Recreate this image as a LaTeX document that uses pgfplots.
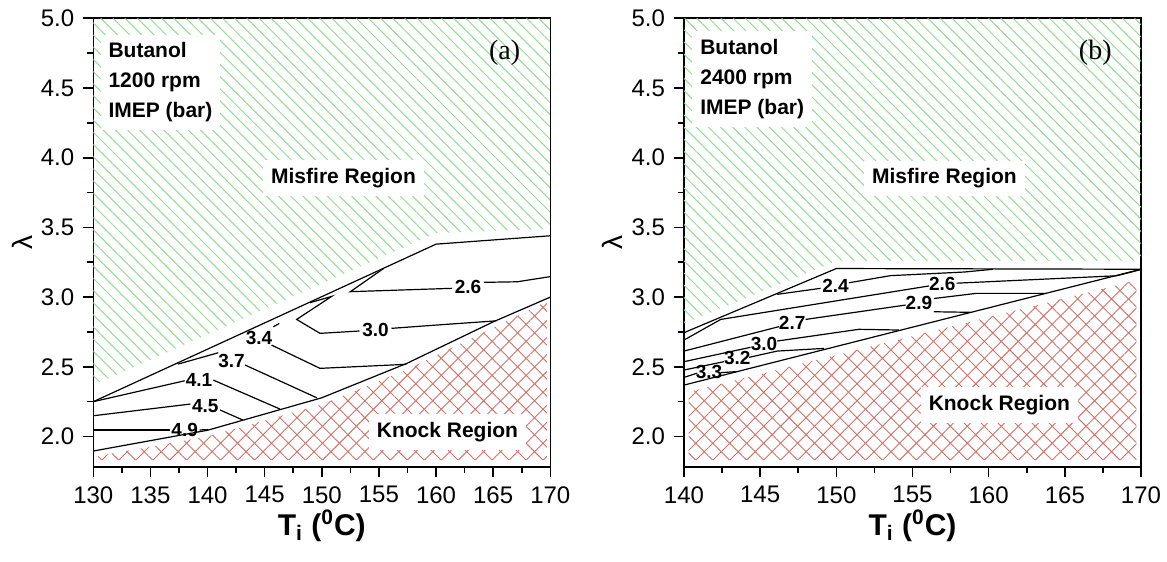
\documentclass[border=0pt]{standalone}
\usepackage{fontspec}
\setmainfont{Liberation Sans}
\newfontfamily\seriffont{Liberation Serif}
\usepackage{pgfplots}
\pgfplotsset{compat=1.18}
\usetikzlibrary{patterns.meta}
\definecolor{hatchgreen}{RGB}{145,222,145}
\definecolor{hatchred}{RGB}{205,115,105}

\tikzset{
  clab/.style={font=\fontsize{9.5}{11}\selectfont\bfseries, inner sep=0pt},
  wbox/.style={fill=white, inner sep=4pt, font=\fontsize{10.5}{15}\selectfont\bfseries},
}
\pgfplotsset{
  panel/.style={
    scale only axis, width=228.5pt, height=224.45pt,
    ymin=1.78, ymax=5.0,
    ytick={2,2.5,3,3.5,4,4.5,5}, minor y tick num=1,
    minor x tick num=1,
    axis line style={line width=0.8pt},
    tick align=outside,
    major tick length=5pt, minor tick length=3pt,
    xtick pos=bottom, ytick pos=left,
    every tick/.style={black, line width=0.8pt},
    tick label style={font=\fontsize{12}{14}\selectfont},
    /pgf/number format/assume math mode=true,
    yticklabel style={/pgf/number format/fixed, /pgf/number format/fixed zerofill, /pgf/number format/precision=1, xshift=-1pt},
    xticklabel style={/pgf/number format/fixed, yshift=-1pt},
    xlabel={\bfseries T\textsubscript{i} (\textsuperscript{0}C)},
    xlabel style={font=\fontsize{15}{17}\selectfont, at={(axis description cs:0.5,-0.13)}, anchor=center},
    ylabel={λ},
    ylabel style={font=\fontsize{14}{16}\selectfont, at={(axis description cs:-0.156,0.5)}, anchor=center},
    clip=true,
  },
  cline/.style={black, line width=0.6pt, mark=none},
  greenhatch/.style={draw=none, pattern={Lines[angle=-45,distance=4.3pt,line width=0.5pt]}, pattern color=hatchgreen},
  redhatch/.style={draw=none, pattern={Hatch[angle=45,distance=6pt,line width=0.45pt]}, pattern color=hatchred},
}

\begin{document}
\begin{tikzpicture}
\path[use as bounding box] (0,0) rectangle (583.5pt,281pt);

% ---------------- panel (a) ----------------
\begin{axis}[panel, at={(46.65pt,47.4pt)}, anchor=south west,
  xmin=130, xmax=170, xtick={130,135,140,145,150,155,160,165,170}]
  \addplot[greenhatch] coordinates {(130,2.37) (160,3.46) (170,3.49) (170,5) (130,5) (130,2.37)};
  \addplot[redhatch] coordinates {(130.4,1.83) (130.4,1.86) (140,2.0) (150,2.23) (157.45,2.48) (165,2.78) (169.7,2.97) (169.7,1.83) (130.4,1.83)};
  \addplot[cline] coordinates {(130,2.25) (160,3.38) (170,3.44)};
  \addplot[cline] coordinates {(130,1.896) (140,2.045) (150,2.278) (157.45,2.525) (165.04,2.824) (170,3.0)};
  \addplot[cline] coordinates {(130,2.047) (136.75,2.047)};
  \addplot[cline] coordinates {(139.3,2.047) (140.05,2.05)};
  \addplot[cline] coordinates {(130,2.149) (138.5,2.233)};
  \addplot[cline] coordinates {(141.1,2.19) (143.1,2.118)};
  \addplot[cline] coordinates {(130,2.25) (138.0,2.40)};
  \addplot[cline] coordinates {(140.5,2.405) (146.34,2.197)};
  \addplot[cline] coordinates {(137.44,2.52) (140.94,2.601)};
  \addplot[cline] coordinates {(143.28,2.513) (149.56,2.278)};
  \addplot[cline] coordinates {(145.76,2.787) (146.28,2.811)};
  \addplot[cline] coordinates {(145.6,2.656) (149.84,2.489) (157.4,2.518)};
  \addplot[cline] coordinates {(148.97,2.96) (150.86,3.005) (147.8,2.84) (149.84,2.74) (153.3,2.757)};
  \addplot[cline] coordinates {(156.1,2.776) (160.1,2.80) (165.3,2.83)};
  \addplot[cline] coordinates {(155.4,3.205) (152.5,3.039) (161.4,3.063)};
  \addplot[cline] coordinates {(164.2,3.106) (167.1,3.11) (170,3.147)};
  \node[clab] at (axis cs:138.0,2.047) {4.9};
  \node[clab] at (axis cs:139.8,2.222) {4.5};
  \node[clab] at (axis cs:139.25,2.405) {4.1};
  \node[clab] at (axis cs:142.1,2.545) {3.7};
  \node[clab] at (axis cs:144.5,2.704) {3.4};
  \node[clab] at (axis cs:154.7,2.764) {3.0};
  \node[clab] at (axis cs:162.8,3.075) {2.6};
  \node[wbox, anchor=north west, align=left] at (axis cs:130.6,4.885) {Butanol\\1200 rpm\\IMEP (bar)};
  \node[wbox] at (axis cs:151.9,3.853) {Misfire Region};
  \node[wbox] at (axis cs:161.0,2.032) {Knock Region};
  \node[font=\seriffont\fontsize{14}{16}\selectfont, inner sep=0pt] at (axis cs:166.0,4.75) {(a)};
\end{axis}

% ---------------- panel (b) ----------------
\begin{axis}[panel, at={(342pt,47.4pt)}, anchor=south west,
  xmin=140, xmax=170, xtick={140,145,150,155,160,165,170}]
  \addplot[greenhatch] coordinates {(140,2.81) (150,3.26) (170,3.26) (170,5) (140,5) (140,2.81)};
  \addplot[redhatch] coordinates {(140.3,1.83) (140.3,2.32) (169.7,3.12) (169.7,1.83) (140.3,1.83)};
  % boundaries
  \addplot[cline] coordinates {(140,2.745) (150,3.205) (170,3.20)};
  \addplot[cline] coordinates {(140,2.369) (170,3.20)};
  % 2.4
  \addplot[cline] coordinates {(146.12,3.02) (148.97,3.063)};
  \addplot[cline] coordinates {(150.83,3.103) (153.56,3.154) (158.4,3.18) (160.3,3.20)};
  % 2.6
  \addplot[cline] coordinates {(140,2.692) (142.41,2.84) (156.08,3.08)};
  \addplot[cline] coordinates {(157.9,3.10) (168.4,3.153) (170,3.198)};
  % 2.7 -> 2.9
  \addplot[cline] coordinates {(140,2.613) (146.23,2.788)};
  \addplot[cline] coordinates {(147.98,2.84) (154.55,2.943)};
  \addplot[cline] coordinates {(156.4,2.99) (159.2,3.027) (163.8,3.027)};
  \addplot[cline] coordinates {(156.4,2.895) (158.8,2.891)};
  % 3.0
  \addplot[cline] coordinates {(140,2.537) (144.37,2.64)};
  \addplot[cline] coordinates {(146.12,2.685) (151.48,2.769) (154.11,2.764)};
  % 3.2
  \addplot[cline] coordinates {(140,2.477) (142.62,2.537)};
  \addplot[cline] coordinates {(144.27,2.568) (146.12,2.613) (149.19,2.632)};
  % 3.3
  \addplot[cline] coordinates {(140,2.424) (140.87,2.455)};
  \addplot[cline] coordinates {(142.4,2.458) (143.5,2.466)};
  \node[clab] at (axis cs:149.95,3.082) {2.4};
  \node[clab] at (axis cs:156.95,3.094) {2.6};
  \node[clab] at (axis cs:155.42,2.955) {2.9};
  \node[clab] at (axis cs:147.1,2.812) {2.7};
  \node[clab] at (axis cs:145.25,2.664) {3.0};
  \node[clab] at (axis cs:143.5,2.561) {3.2};
  \node[clab] at (axis cs:141.64,2.465) {3.3};
  \node[wbox, anchor=north west, align=left] at (axis cs:140.52,4.91) {Butanol\\2400 rpm\\IMEP (bar)};
  \node[wbox] at (axis cs:157.1,3.85) {Misfire Region};
  \node[wbox] at (axis cs:160.7,2.226) {Knock Region};
  \node[font=\seriffont\fontsize{14}{16}\selectfont, inner sep=0pt] at (axis cs:167.0,4.75) {(b)};
\end{axis}
\end{tikzpicture}
\end{document}
